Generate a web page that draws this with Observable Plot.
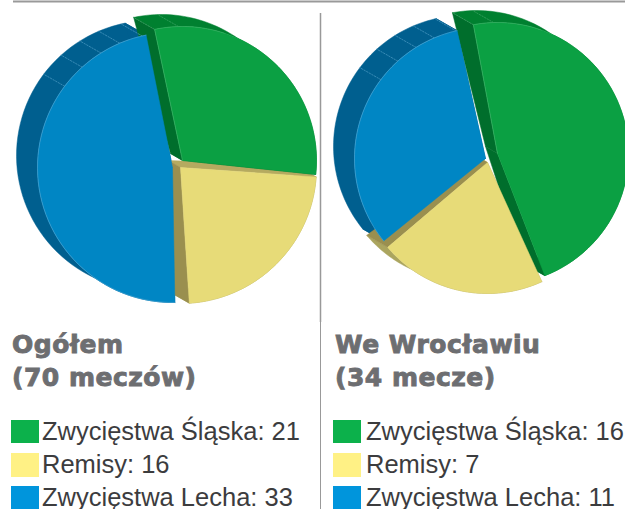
<!DOCTYPE html>
<html lang="pl">
<head>
<meta charset="utf-8">
<script src="https://cdn.jsdelivr.net/npm/d3@7"></script>
<script src="https://cdn.jsdelivr.net/npm/@observablehq/plot@0.6"></script>
<style>
  html, body { margin: 0; padding: 0; background: #fff; overflow: hidden; }
  #page { position: relative; width: 625px; height: 509px; overflow: hidden; }
  #chart svg { display: block; }
  .panel { position: absolute; top: 322px; height: 187px; }
  .title { position: absolute; top: 7px; left: 0; white-space: nowrap; font: 900 25px/32.5px "DejaVu Sans", sans-serif; color: #6d6e71; -webkit-text-stroke: .9px #6d6e71; letter-spacing: .5px; }
  .row { position: absolute; left: 0; height: 23px; white-space: nowrap; }
  .swatch { position: absolute; left: 0; top: 0; width: 28px; height: 23.5px; }
  .label { position: absolute; top: 0; font: 25.5px/22px "Liberation Sans", Arial, sans-serif; color: #3c3c3e; }
  #divider { position: absolute; left: 319.5px; top: 322px; width: 1.5px; height: 187px; background: #999; }
</style>
</head>
<body>
<div id="page">
  <div id="chart"></div>
  <div id="divider"></div>
</div>
<script>
// ---- data ----
const categories = ["Zwycięstwa Śląska", "Remisy", "Zwycięstwa Lecha"];
const panelTitles = [["Ogółem", "(70 meczów)"], ["We Wrocławiu", "(34 mecze)"]];
const ogolemValues = [21, 16, 33];
const wroclawValues = [16, 7, 11];

// ---- colours ----
const faceColors = ["#0ba043", "#e7db78", "#0086c4"];
const bandColors = ["#008030", "#aba55f", "#005f8f"];
const startWallColors = ["#006e2c", "#b5aa60", "#005f8f"];
const endWallColors = ["#006e2c", "#9a8f4f", "#005f8f"];
const rimColors = ["#3fb46a", "#e7db78", "#4fa6d4"];
const swatchColors = ["#0cb14b", "#fff185", "#0095dc"];

// ---- drawing layout of the exploded slices (draw order: Lech, remisy, Śląsk) ----
const leftLayout = [
  {cx: 182, cy: 160, r: 134, start: -12},
  {cx: 180, cy: 167, r: 136, start: 94},
  {cx: 172, cy: 167, r: 135, start: 179}
];
const rightLayout = [
  {cx: 497, cy: 153, r: 131, start: -10.6},
  {cx: 487, cy: 162, r: 131, start: 155.5},
  {cx: 485, cy: 158, r: 131, start: 231}
];
const depth = [-21, -12];
const apexDepth = [-12, -7];
const blueCreases = [-53, -42, -32, -23, -13];
const greenCreases = [-1.7];

const pt = (s, a, dx = 0, dy = 0) => {
  const t = a * Math.PI / 180;
  return {x: s.cx + s.r * Math.sin(t) + dx, y: s.cy - s.r * Math.cos(t) + dy};
};
const arc = (s, a0, a1, dx = 0, dy = 0) => {
  return d3.range(0, 61).map(i => pt(s, a0 + (a1 - a0) * i / 60, dx, dy));
};
const poly = (points, fill, extra = {}) =>
  Plot.line([...points, points[0]], {x: "x", y: "y", fill, stroke: fill, strokeWidth: 0.5, ...extra});

function pieMarks(values, layout) {
  const total = d3.sum(values);
  const slices = values.map((v, i) => {
    const s = layout[i];
    return {i, s, a0: s.start, a1: s.start + v / total * 360};
  });
  const order = [2, 1, 0];
  const marks = [];
  for (const k of order) {
    const {i, s, a0, a1} = slices[k];
    const apex = {x: s.cx, y: s.cy};
    const apexBack = {x: s.cx + apexDepth[0], y: s.cy + apexDepth[1]};
    marks.push(poly([...arc(s, a0, a1), ...arc(s, a0, a1, ...depth).reverse()], bandColors[i]));
    marks.push(poly([apex, pt(s, a0), pt(s, a0, ...depth), apexBack], startWallColors[i]));
    marks.push(poly([apex, pt(s, a1), pt(s, a1, ...depth), apexBack], endWallColors[i]));
  }
  const crease = (s, a, color) => Plot.line([pt(s, a), pt(s, a, ...depth)],
    {x: "x", y: "y", stroke: color, strokeWidth: 0.7, strokeDasharray: "1.5 1.5"});
  for (const a of blueCreases) marks.push(crease(slices[2].s, a, "#4f9cc4"));
  for (const a of greenCreases) marks.push(crease(slices[0].s, a, "#3fa566"));
  marks.push(crease(slices[0].s, slices[0].a0, "#3fa566"));
  for (const k of order) {
    const {i, s, a0, a1} = slices[k];
    const apex = {x: s.cx, y: s.cy};
    marks.push(poly([apex, ...arc(s, a0, a1)], faceColors[i]));
    if (i !== 1) marks.push(Plot.line(i === 2 ? arc(s, a0, a1) : [apex, ...arc(s, a0, a0 + 30)],
      {x: "x", y: "y", stroke: rimColors[i], strokeWidth: 0.6}));
  }
  return marks;
}

const chart = Plot.plot({
  width: 625,
  height: 322,
  margin: 0,
  x: {domain: [0, 625], axis: null},
  y: {domain: [322, 0], axis: null},
  marks: [
    Plot.ruleY([1], {x1: 13, x2: 625, stroke: "#999", strokeWidth: 2}),
    Plot.ruleX([320], {y1: 13, y2: 322, stroke: "#999", strokeWidth: 1.5}),
    ...pieMarks(ogolemValues, leftLayout),
    ...pieMarks(wroclawValues, rightLayout)
  ]
});
document.getElementById("chart").append(chart);

// ---- titles and legends below the SVG ----
const rowTops = [97.5, 131, 164];
const page = document.getElementById("page");
[[ogolemValues, 11, 12, 31], [wroclawValues, 333, 335, 33]].forEach(([values, left, titleLeft, labelLeft], p) => {
  const panel = document.createElement("div");
  panel.className = "panel";
  panel.style.left = left + "px";
  panel.style.width = "290px";
  const title = document.createElement("div");
  title.className = "title";
  title.style.left = (titleLeft - left) + "px";
  title.innerHTML = panelTitles[p].join("<br>");
  panel.append(title);
  categories.forEach((c, i) => {
    const row = document.createElement("div");
    row.className = "row";
    row.style.top = rowTops[i] + "px";
    const sw = document.createElement("div");
    sw.className = "swatch";
    sw.style.background = swatchColors[i];
    const lab = document.createElement("div");
    lab.className = "label";
    lab.style.left = labelLeft + "px";
    lab.textContent = `${c}: ${values[i]}`;
    row.append(sw, lab);
    panel.append(row);
  });
  page.append(panel);
});
</script>
</body>
</html>
